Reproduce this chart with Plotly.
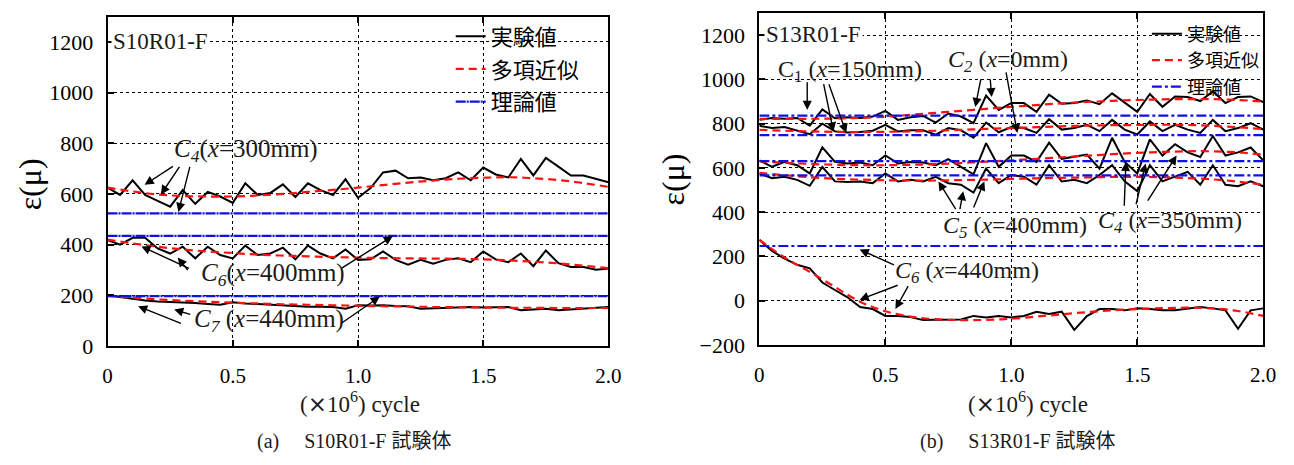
import plotly.graph_objects as go

# ---------------- data ----------------
cycles = [0.00, 0.05, 0.10, 0.15, 0.20, 0.25, 0.30, 0.35, 0.40, 0.45,
          0.50, 0.55, 0.60, 0.65, 0.70, 0.75, 0.80, 0.85, 0.90, 0.95,
          1.00, 1.05, 1.10, 1.15, 1.20, 1.25, 1.30, 1.35, 1.40, 1.45,
          1.50, 1.55, 1.60, 1.65, 1.70, 1.75, 1.80, 1.85, 1.90, 1.95, 2.00]
fit_cycles = [0.0, 0.1, 0.2, 0.3, 0.4, 0.5, 0.6, 0.7, 0.8, 0.9, 1.0,
              1.1, 1.2, 1.3, 1.4, 1.5, 1.6, 1.7, 1.8, 1.9, 2.0]
theory_span = [0.0, 2.0]

# (a) S10R01-F
a_c4_exp = [625, 596, 654, 596, 573, 550, 615, 561, 608, 590,
            565, 642, 596, 604, 638, 588, 642, 615, 596, 658,
            585, 623, 685, 692, 662, 665, 654, 662, 685, 654,
            704, 677, 665, 738, 673, 742, 708, 673, 673, 658, 646]
a_c6_exp = [418, 400, 427, 427, 385, 365, 392, 346, 392, 359,
            346, 396, 359, 365, 388, 342, 396, 365, 346, 381,
            340, 342, 373, 340, 321, 340, 325, 340, 346, 331,
            373, 342, 331, 365, 315, 377, 327, 312, 312, 301, 306]
a_c7_exp = [200, 193, 186, 180, 176, 174, 173, 170, 166, 163,
            173, 168, 166, 163, 161, 158, 155, 155, 154, 147,
            161, 160, 161, 158, 157, 147, 149, 150, 152, 154,
            152, 154, 154, 141, 144, 147, 141, 144, 147, 150, 154]
a_c4_fit = [625, 610, 598, 592, 590, 590, 594, 600, 608, 616, 625,
            635, 645, 653, 660, 664, 666, 662, 655, 643, 628]
a_c6_fit = [420, 405, 392, 381, 373, 367, 361, 357, 354, 351, 349,
            347, 346, 345, 344, 342, 338, 333, 326, 317, 307]
a_c7_fit = [198, 191, 184, 179, 175, 171, 168, 165, 163, 161, 159,
            157, 156, 154, 153, 152, 151, 151, 150, 150, 150]
a_theory = [523, 435, 197]

# (b) S13R01-F
b_c2_exp = [817, 826, 822, 826, 791, 864, 824, 829, 826, 832,
            858, 817, 829, 835, 805, 846, 832, 802, 927, 862,
            893, 893, 853, 931, 890, 893, 905, 888, 937, 893,
            853, 934, 876, 923, 920, 902, 946, 893, 920, 923, 897]
b_c1_exp = [790, 780, 785, 770, 752, 800, 765, 760, 762, 768,
            795, 765, 770, 770, 750, 780, 770, 736, 805, 761,
            785, 780, 758, 820, 773, 780, 795, 766, 817, 773,
            751, 810, 766, 795, 773, 758, 817, 766, 780, 802, 773]
b_c4_exp = [634, 605, 627, 612, 575, 693, 627, 620, 624, 612,
            656, 620, 627, 624, 612, 640, 605, 571, 712, 605,
            656, 656, 627, 714, 641, 650, 660, 597, 736, 627,
            575, 729, 656, 707, 670, 649, 744, 656, 670, 692, 634]
b_c5_exp = [575, 553, 560, 546, 519, 604, 539, 536, 539, 531,
            575, 539, 546, 539, 560, 531, 524, 488, 597, 531,
            568, 560, 524, 612, 539, 546, 531, 568, 612, 539,
            495, 612, 539, 560, 582, 524, 612, 524, 517, 539, 517]
b_c6_exp = [275, 225, 190, 162, 146, 82, 48, 15, -29, -38,
            -69, -69, -74, -88, -86, -87, -85, -69, -76, -69,
            -76, -69, -50, -60, -50, -132, -70, -38, -38, -44,
            -35, -38, -44, -44, -35, -29, -35, -44, -127, -44, -35]
b_c2_fit = [822, 822, 822, 823, 826, 831, 840, 849, 858, 867, 876,
            884, 892, 898, 903, 907, 910, 911, 911, 907, 900]
b_c1_fit = [772, 768, 765, 763, 762, 763, 765, 768, 772, 776, 780,
            784, 788, 791, 793, 794, 795, 794, 790, 784, 775]
b_c4_fit = [630, 623, 618, 614, 612, 612, 614, 617, 622, 628, 634,
            641, 648, 655, 662, 668, 672, 675, 675, 670, 660]
b_c5_fit = [578, 567, 558, 551, 547, 544, 543, 543, 545, 547, 550,
            553, 555, 557, 559, 559, 558, 554, 548, 538, 524]
b_c6_fit = [275, 195, 130, 62, -5, -48, -72, -84, -88, -87, -82,
            -72, -62, -52, -44, -38, -34, -32, -35, -47, -69]
b_theory = [836, 748, 631, 566, 247]

legend_names = ["実験値", "多項近似", "理論値"]

# ---------------- styles ----------------
SERIF = "Liberation Serif"
CJK = "Noto Sans CJK JP"
BLACK = "#000000"
RED = "#ff1010"
BLUE = "#1010e8"

fig = go.Figure()


def add_panel(xa, ya, legend, exps, fits, theories, blue_dash):
    for i, e in enumerate(exps):
        fig.add_trace(go.Scatter(
            x=cycles, y=e, mode="lines", xaxis=xa, yaxis=ya,
            line=dict(color=BLACK, width=2),
            name=legend_names[0], legend=legend, legendgroup=legend + "e",
            showlegend=(i == 0), hoverinfo="skip"))
    for i, f in enumerate(fits):
        fig.add_trace(go.Scatter(
            x=fit_cycles, y=f, mode="lines", xaxis=xa, yaxis=ya,
            line=dict(color=RED, width=2.2, dash="8px,5px", shape="spline", smoothing=1.0),
            name=legend_names[1], legend=legend, legendgroup=legend + "f",
            showlegend=(i == 0), hoverinfo="skip"))
    for i, t in enumerate(theories):
        fig.add_trace(go.Scatter(
            x=theory_span, y=[t, t], mode="lines", xaxis=xa, yaxis=ya,
            line=dict(color=BLUE, width=2.2, dash=blue_dash),
            name=legend_names[2], legend=legend, legendgroup=legend + "t",
            showlegend=(i == 0), hoverinfo="skip"))


add_panel("x", "y", "legend", [a_c4_exp, a_c6_exp, a_c7_exp],
          [a_c4_fit, a_c6_fit, a_c7_fit], a_theory, "10px,1px,2px,1px")
add_panel("x2", "y2", "legend2", [b_c2_exp, b_c1_exp, b_c4_exp, b_c5_exp, b_c6_exp],
          [b_c2_fit, b_c1_fit, b_c4_fit, b_c5_fit, b_c6_fit], b_theory, "10px,3px,3px,3px")

W, H = 1294, 465


def xaxis_cfg(d0, d1, anchor):
    return dict(
        domain=[d0 / W, d1 / W], anchor=anchor, range=[0, 2.0],
        tickvals=[0, 0.5, 1.0, 1.5, 2.0], ticktext=["0", "0.5", "1.0", "1.5", "2.0"],
        showline=True, linecolor=BLACK, linewidth=2, mirror="allticks",
        ticks="inside", ticklen=6, tickwidth=2, tickcolor=BLACK,
        showgrid=True, gridcolor=BLACK, gridwidth=1, griddash="3px,3px",
        zeroline=False, tickfont=dict(family=SERIF, size=21, color=BLACK),
        ticklabelstandoff=10, fixedrange=True)


def yaxis_cfg(top, bottom, anchor, rng, vals):
    return dict(
        domain=[1 - bottom / H, 1 - top / H], anchor=anchor, range=rng,
        tickvals=vals, ticktext=[("−" + str(-v)) if v < 0 else str(v) for v in vals],
        showline=True, linecolor=BLACK, linewidth=2, mirror=True,
        ticks="inside", ticklen=6, tickwidth=2, tickcolor=BLACK,
        showgrid=True, gridcolor=BLACK, gridwidth=1, griddash="3px,3px",
        zeroline=False, tickfont=dict(family=SERIF, size=22, color=BLACK),
        ticklabelstandoff=8, fixedrange=True)


fig.update_layout(
    width=W, height=H, margin=dict(l=0, r=0, t=0, b=0),
    paper_bgcolor="white", plot_bgcolor="white",
    font=dict(family=SERIF, color=BLACK),
    xaxis=xaxis_cfg(104, 612, "y"),
    yaxis=yaxis_cfg(17, 356, "x", [0, 1300], [0, 200, 400, 600, 800, 1000, 1200]),
    xaxis2=xaxis_cfg(765, 1276, "y2"),
    yaxis2=yaxis_cfg(13.4, 354.8, "x2", [-200, 1300], [-200, 0, 200, 400, 600, 800, 1000, 1200]),
    legend=dict(x=452 / W, y=1 - 16 / H, xanchor="left", yanchor="top",
                bgcolor="rgba(0,0,0,0)", font=dict(family=CJK, size=22, color=BLACK),
                traceorder="grouped", tracegroupgap=1, itemwidth=30),
    legend2=dict(x=1158 / W, y=1 - 16 / H, xanchor="left", yanchor="top",
                 bgcolor="rgba(0,0,0,0)", font=dict(family=CJK, size=18, color=BLACK),
                 traceorder="grouped", tracegroupgap=0, itemwidth=30),
    showlegend=True,
)

ann = []
TXT = "#1c1a18"


def label(xr, yr, x, y, text, size=24, anchor="center", bg=None):
    d = dict(xref=xr, yref=yr, x=x, y=y, text=text, showarrow=False,
             xanchor=anchor, yanchor="middle",
             font=dict(family=SERIF, size=size, color=TXT))
    if bg:
        d["bgcolor"] = bg
    ann.append(d)


def arrow(xr, yr, tail, head):
    ann.append(dict(xref=xr, yref=yr, axref=xr, ayref=yr,
                    x=head[0], y=head[1], ax=tail[0], ay=tail[1], text="",
                    showarrow=True, arrowhead=2, arrowsize=1.3, arrowwidth=1.4,
                    arrowcolor=BLACK))


# panel (a)
label("x", "y", 0.012, 1200, "S10R01-F", size=23, anchor="left", bg="white")
label("x", "y", 0.551, 770, "<i>C</i><sub><i>4</i></sub>(<i>x</i>=300mm)", size=25)
label("x", "y", 0.661, 282, "<i>C</i><sub><i>6</i></sub>(<i>x</i>=400mm)", size=25)
label("x", "y", 0.646, 100, "<i>C</i><sub><i>7</i></sub> (<i>x</i>=440mm)", size=25)
for t, h in [((0.267, 713), (0.148, 636)), ((0.291, 713), (0.213, 598)),
             ((0.33, 713), (0.283, 529)),
             ((0.331, 304), (0.135, 393)), ((0.325, 294), (0.28, 349)),
             ((0.929, 304), (1.139, 434)),
             ((0.299, 87), (0.122, 157)), ((0.336, 123), (0.266, 144)),
             ((0.929, 87), (1.087, 195))]:
    arrow("x", "y", t, h)

# panel (b)
label("x2", "y2", 0.018, 1205, "S13R01-F", size=23, anchor="left", bg="white")
label("x2", "y2", 0.36, 1038, "C<sub>1</sub> (<i>x</i>=150mm)", size=24)
label("x2", "y2", 0.986, 1082, "<i>C</i><sub><i>2</i></sub> (<i>x</i>=0mm)", size=24)
label("x2", "y2", 1.014, 335, "<i>C</i><sub><i>5</i></sub> (<i>x</i>=400mm)", size=24)
label("x2", "y2", 1.628, 357, "<i>C</i><sub><i>4</i></sub> (<i>x</i>=350mm)", size=24)
label("x2", "y2", 0.826, 129, "<i>C</i><sub><i>6</i></sub> (<i>x</i>=440mm)", size=24)
for t, h in [((0.19, 994), (0.19, 862)), ((0.254, 985), (0.294, 765)),
             ((0.274, 985), (0.345, 758)),
             ((0.88, 1007), (0.857, 875)), ((0.916, 1007), (0.922, 920)),
             ((0.978, 1038), (1.024, 758)),
             ((0.783, 407), (0.711, 539)), ((0.795, 407), (0.809, 495)),
             ((0.848, 414), (0.893, 539)),
             ((1.448, 422), (1.455, 627)), ((1.494, 429), (1.533, 620)),
             ((1.538, 445), (1.656, 656)),
             ((0.54, 159), (0.398, 231)), ((0.555, 72), (0.398, 4)),
             ((0.594, 72), (0.54, -38))]:
    arrow("x2", "y2", t, h)

# axis titles and captions
xtitle = "(<span style='font-family:DejaVu Sans'>×</span>10<sup>6</sup>) cycle"
label("paper", "paper", 360 / W, 1 - 414 / H, xtitle, size=23)
label("paper", "paper", 1037 / W, 1 - 414 / H, xtitle, size=23)
ann.append(dict(xref="paper", yref="paper", x=25 / W, y=1 - 190 / H, text="ε(μ)",
                textangle=-90, showarrow=False, xanchor="center", yanchor="middle",
                font=dict(family=SERIF, size=32, color=BLACK)))
ann.append(dict(xref="paper", yref="paper", x=677 / W, y=1 - 185 / H, text="ε(μ)",
                textangle=-90, showarrow=False, xanchor="center", yanchor="middle",
                font=dict(family=SERIF, size=32, color=BLACK)))
label("paper", "paper", 354 / W, 1 - 452 / H,
      "(a)　 S10R01-F <span style='font-family:Noto Sans CJK JP'>試験体</span>", size=20)
label("paper", "paper", 1027 / W, 1 - 452 / H,
      "(b)　 S13R01-F <span style='font-family:Noto Sans CJK JP'>試験体</span>", size=20)

fig.update_layout(annotations=ann)
fig.write_html("out.html")
